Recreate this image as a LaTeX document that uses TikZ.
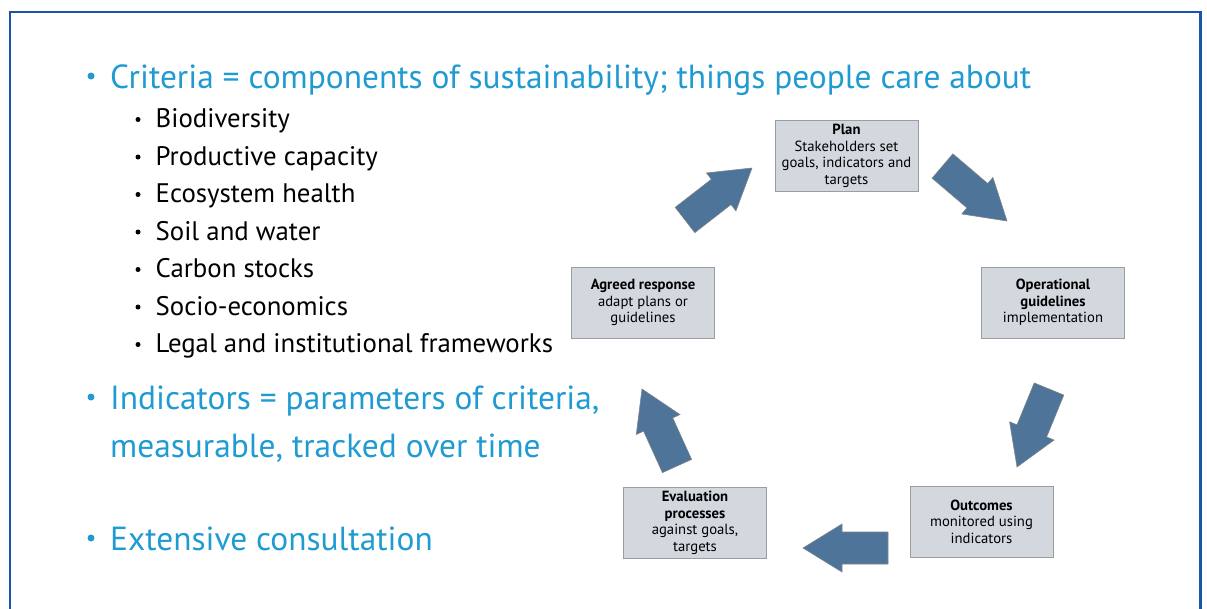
\documentclass[tikz,border=0pt]{standalone}
\usepackage{fontspec}
\setmainfont{PT Sans}
\usetikzlibrary{calc}

\definecolor{frameblue}{RGB}{28,84,168}
\definecolor{textblue}{RGB}{32,155,210}
\definecolor{boxfill}{RGB}{211,215,222}
\definecolor{boxline}{RGB}{155,157,160}
\definecolor{arrowfill}{RGB}{78,116,153}
\definecolor{arrowline}{RGB}{125,132,140}

\tikzset{
  stage/.style={draw=boxline, fill=boxfill, line width=1pt, minimum width=143pt,
    minimum height=71pt, align=center, inner sep=0pt,
    font=\fontsize{14.7}{16.5}\selectfont},
  headline/.style={anchor=base west, text=textblue, inner sep=0pt,
    font=\fontsize{33.4}{38}\selectfont},
  subline/.style={anchor=base west, inner sep=0pt,
    font=\fontsize{26.8}{30}\selectfont},
  bigdot/.style={circle, fill=textblue, inner sep=0pt, minimum size=7pt},
  smalldot/.style={circle, fill=black, inner sep=0pt, minimum size=5pt},
}

% fat block arrow from tail #1 to tip #2
\newcommand{\fatarrow}[2]{%
  \coordinate (hb) at ($(#2)!39pt!(#1)$);
  \filldraw[fill=arrowfill, draw=arrowline, line width=0.6pt]
    ($(#1)!16pt!90:(#2)$) -- ($(hb)!16pt!90:(#2)$) -- ($(hb)!24pt!90:(#2)$) -- (#2)
    -- ($(hb)!24pt!-90:(#2)$) -- ($(hb)!16pt!-90:(#2)$) -- ($(#1)!16pt!-90:(#2)$) -- cycle;
}

\begin{document}
\begin{tikzpicture}[x=1pt, y=-1pt]
  \useasboundingbox (0,0) rectangle (1207,608);

  % --- FRAME ---
  \draw[frameblue, line width=2.5pt] (10,630) -- (10,12) -- (1200.5,12) -- (1200.5,630);

  % --- LEFT: CRITERIA AND INDICATORS ---
  \node[bigdot] (b1) at (91,76) {};
  \node[headline] (crit) at (110,88) {Criteria = components of sustainability; things people care about};

  \foreach \txt [count=\i] in {Biodiversity, Productive capacity, Ecosystem health,
      Soil and water, Carbon stocks, Socio-economics, Legal and institutional frameworks} {
    \node[smalldot] (d\i) at (138,{90+37.5*\i-8}) {};
    \node[subline] (s\i) at (155.5,{90+37.5*\i}) {\txt};
  }

  \node[bigdot] (b2) at (91,397) {};
  \node[headline] (ind) at (110,409) {Indicators = parameters of criteria,};
  \node[headline] (ind2) at (110,457) {measurable, tracked over time};

  \node[bigdot] (b3) at (91,538) {};
  \node[headline] (cons) at (110,550) {Extensive consultation};

  % --- RIGHT: MANAGEMENT CYCLE ---
  \node[stage] (plan) at (846.5,156) {\textbf{Plan}\\Stakeholders set\\goals, indicators and\\targets};
  \node[stage] (ops) at (1053,302.5) {\textbf{Operational}\\\textbf{guidelines}\\implementation};
  \node[stage] (out) at (981.5,521.5) {\textbf{Outcomes}\\monitored using\\indicators};
  \node[stage] (eval) at (695,523) {\textbf{Evaluation}\\\textbf{processes}\\against goals,\\targets};
  \node[stage] (agree) at (643,302.5) {\textbf{Agreed response}\\adapt plans or\\guidelines};

  % arrow ends
  \coordinate (t1) at (685,220);   \coordinate (h1) at (752,168);
  \coordinate (t2) at (942.5,166); \coordinate (h2) at (1007,221);
  \coordinate (t3) at (1049,389);  \coordinate (h3) at (1017,467);
  \coordinate (t4) at (888,548);   \coordinate (h4) at (803,548);
  \coordinate (t5) at (677,466);   \coordinate (h5) at (642,389);

  \foreach \k in {1,...,5} {
    \fatarrow{t\k}{h\k}
  }
\end{tikzpicture}
\end{document}
